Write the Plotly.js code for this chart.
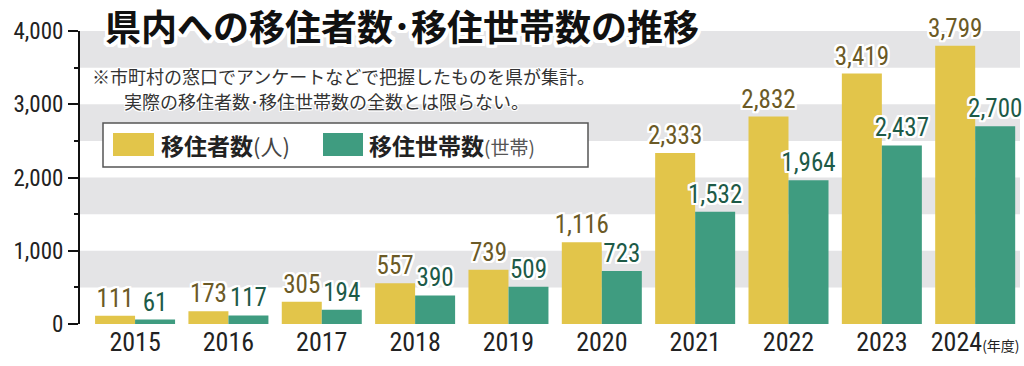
<!DOCTYPE html>
<html>
<head>
<meta charset="utf-8">
<script src="https://cdn.plot.ly/plotly-3.0.1.min.js"></script>
<style>html,body{margin:0;padding:0;background:#fff;}#chart{width:1024px;height:366px;}</style>
</head>
<body>
<div id="chart"></div>
<script>
// ---- data ----
const years = ['2015','2016','2017','2018','2019','2020','2021','2022','2023','2024'];
const tickLabels = ['2015','2016','2017','2018','2019','2020','2021','2022','2023',
  "2024<span style='font-family:Noto Sans CJK JP;font-size:14px'>(年度)</span>"];
const migrants = [111, 173, 305, 557, 739, 1116, 2333, 2832, 3419, 3799];      // 移住者数(人)
const households = [61, 117, 194, 390, 509, 723, 1532, 1964, 2437, 2700];     // 移住世帯数(世帯)
const seriesNames = ['移住者数', '移住世帯数'];
const seriesUnits = ['(人)', '(世帯)'];
const titleText = '県内への移住者数･移住世帯数の推移';
const noteLines = ['※市町村の窓口でアンケートなどで把握したものを県が集計。',
                   '実際の移住者数･移住世帯数の全数とは限らない。'];
const yTicks = [0, 1000, 2000, 3000, 4000];
const bandRanges = [[500,1000],[1500,2000],[2500,3000],[3500,4000]];

// ---- style ----
const YELLOW = '#E2C54A', GREEN = '#3F9C80';
const NUM = 'Roboto Condensed, DejaVu Sans Condensed, sans-serif';
const JP = 'Noto Sans CJK JP, sans-serif';
const W = 1024, H = 366, L = 80, R = 4, T = 31, B = 42;
const PW = W - L - R, PH = H - T - B;
const px = x => (x - L) / PW;
const py = y => (H - B - y) / PH;
const halo = (c, n) => {
  const s = [];
  for (let dx = -n; dx <= n; dx++) for (let dy = -n; dy <= n; dy++)
    if (dx || dy) s.push(dx + 'px ' + dy + 'px 0 ' + c);
  return s.join(', ');
};

const traces = [
  {type:'bar', x: years, y: migrants, name: seriesNames[0],
   marker:{color: YELLOW}, texttemplate:'%{y:,}', textposition:'outside',
   constraintext:'none', cliponaxis:false,
   textfont:{family: NUM, size: 25, color:'#6B5A26', shadow: halo('#fff',2)},
   hoverinfo:'x+y'},
  {type:'bar', x: years, y: households, name: seriesNames[1],
   marker:{color: GREEN}, texttemplate:'%{y:,}', textposition:'outside',
   constraintext:'none', cliponaxis:false,
   textfont:{family: NUM, size: 25, color:'#1D5A47', shadow: halo('#fff',2)},
   hoverinfo:'x+y'}
];

const shapes = bandRanges.map(r => ({
  type:'rect', layer:'below', xref:'paper', yref:'y',
  x0:0, x1:1, y0:r[0], y1:r[1], fillcolor:'#E4E4E6', line:{width:0}
}));
// legend box
shapes.push({type:'rect', layer:'above', xref:'paper', yref:'paper',
  x0:px(103), x1:px(588), y0:py(167), y1:py(123), fillcolor:'#fff', line:{color:'#555', width:1.5}});
shapes.push({type:'rect', layer:'above', xref:'paper', yref:'paper',
  x0:px(113), x1:px(154), y0:py(156), y1:py(133), fillcolor:YELLOW, line:{width:0}});
shapes.push({type:'rect', layer:'above', xref:'paper', yref:'paper',
  x0:px(323), x1:px(363), y0:py(156), y1:py(133), fillcolor:GREEN, line:{width:0}});

const annotations = [
  {xref:'paper', yref:'paper', x:px(90), y:py(76), xanchor:'left', yanchor:'middle',
   text: noteLines[0], showarrow:false, font:{family:JP, size:18, color:'#333', shadow: halo('#fff',1)}},
  {xref:'paper', yref:'paper', x:px(122), y:py(101), xanchor:'left', yanchor:'middle',
   text: noteLines[1], showarrow:false, font:{family:JP, size:18, color:'#333', shadow: halo('#fff',1)}},
  {xref:'paper', yref:'paper', x:px(159), y:py(145), xanchor:'left', yanchor:'middle',
   text: '<b>' + seriesNames[0] + '</b><span style="font-size:22px;color:#444">' + seriesUnits[0] + '</span>',
   showarrow:false, font:{family:JP, size:23, color:'#222'}},
  {xref:'paper', yref:'paper', x:px(367), y:py(145), xanchor:'left', yanchor:'middle',
   text: '<b>' + seriesNames[1] + '</b><span style="font-size:19px;color:#555">' + seriesUnits[1] + '</span>',
   showarrow:false, font:{family:JP, size:23, color:'#222'}}
];

const layout = {
  width: W, height: H,
  margin:{l:L, r:R, t:T, b:B, pad:0},
  paper_bgcolor:'#fff', plot_bgcolor:'rgba(0,0,0,0)',
  showlegend:false,
  barmode:'group', bargap:0.143, bargroupgap:0,
  title:{text: titleText, xref:'paper', x:px(105), xanchor:'left',
         yref:'container', y:1 - 28/H, yanchor:'middle',
         font:{family:JP, size:36, color:'#111', weight:'bold', shadow: halo('#fff',3)}},
  xaxis:{type:'category', range:[-0.59, 9.48], tickvals: years, ticktext: tickLabels,
         showline:false, showgrid:false, zeroline:false, ticks:'',
         tickfont:{family:NUM, size:26, color:'#222'}, fixedrange:true},
  yaxis:{range:[0,4000], tickvals: yTicks, tickformat:',', separatethousands:true,
         showline:true, linecolor:'#111', linewidth:2,
         ticks:'outside', ticklen:10, tickwidth:2, tickcolor:'#111',
         minor:{dtick:500, ticks:'outside', ticklen:4, tickwidth:2, tickcolor:'#111', showgrid:false},
         showgrid:false, zeroline:false,
         tickfont:{family:NUM, size:23, color:'#222'}, fixedrange:true},
  shapes: shapes,
  annotations: annotations
};

Plotly.newPlot('chart', traces, layout, {displayModeBar:false, staticPlot:true});
</script>
</body>
</html>
